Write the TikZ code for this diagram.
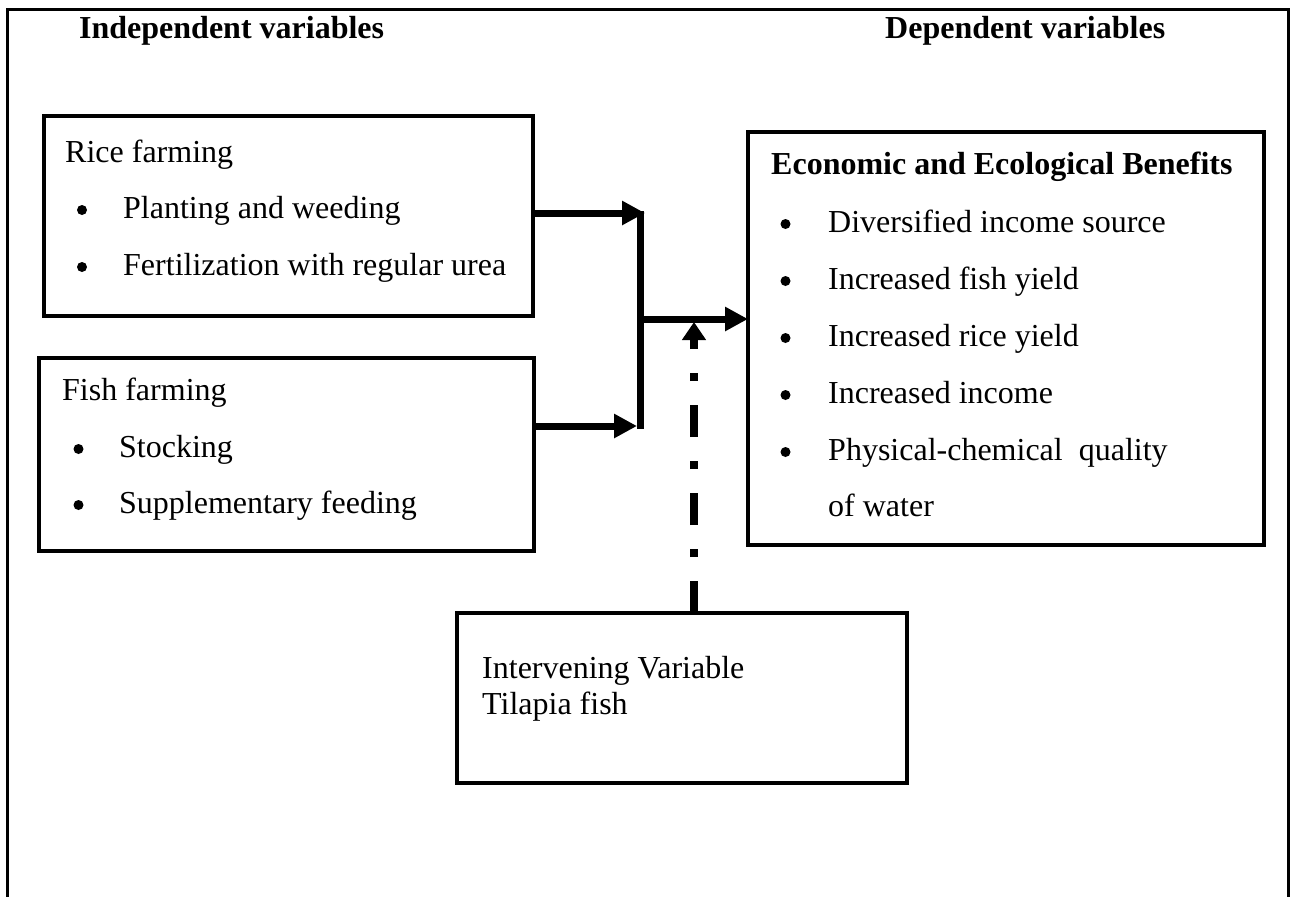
\documentclass[tikz,border=0pt]{standalone}
\usepackage{fontspec}
\setmainfont{Liberation Serif}
\usetikzlibrary{arrows.meta}
\begin{document}
\begin{tikzpicture}[x=1pt,y=-1pt,
  box/.style={draw, line width=4pt, rectangle, inner sep=0pt, outer sep=0pt},
  txt/.style={anchor=base west, inner sep=0pt, font=\fontsize{32}{37}\selectfont},
  head/.style={anchor=base west, inner sep=0pt, font=\fontsize{32}{37}\selectfont\bfseries},
  bul/.style={fill=black},
  arr/.style={line width=7pt, -{Triangle[length=23pt,width=23pt]}},
  dashdot/.style={line width=8pt, dash pattern=on 32pt off 24pt on 8pt off 24pt, -{Triangle[length=18pt,width=23pt]}}
]
\useasboundingbox (0,0) rectangle (1296,897);
\draw[line width=3pt] (7.5,897) -- (7.5,9.5) -- (1288.5,9.5) -- (1288.5,897);

% headings
\node[head] (hind) at (79,38) {Independent variables};
\node[head] (hdep) at (885,38) {Dependent variables};

% boxes
\node[box, minimum width=489pt, minimum height=200pt, anchor=north west] (rice) at (44,116) {};
\node[box, minimum width=495pt, minimum height=193pt, anchor=north west] (fish) at (39,358) {};
\node[box, minimum width=516pt, minimum height=413pt, anchor=north west] (econ) at (748,132) {};
\node[box, minimum width=450pt, minimum height=170pt, anchor=north west] (ivar) at (457,613) {};

% rice text
\node[txt] (r0) at (65,162) {Rice farming};
\fill[bul] (82,210) circle[radius=5pt];
\node[txt] (r1) at (123,218) {Planting and weeding};
\fill[bul] (82,267) circle[radius=5pt];
\node[txt] (r2) at (123,275) {Fertilization with regular urea};

% fish text
\node[txt] (f0) at (62,400) {Fish farming};
\fill[bul] (78.5,449) circle[radius=5pt];
\node[txt] (f1) at (119,457) {Stocking};
\fill[bul] (78.5,505) circle[radius=5pt];
\node[txt] (f2) at (119,513) {Supplementary feeding};

% econ text
\node[head] (e0) at (771,174) {Economic and Ecological Benefits};
\fill[bul] (785.5,224) circle[radius=5pt];
\node[txt] (e1) at (828,232) {Diversified income source};
\fill[bul] (785.5,281) circle[radius=5pt];
\node[txt] (e2) at (828,289) {Increased fish yield};
\fill[bul] (785.5,338) circle[radius=5pt];
\node[txt] (e3) at (828,346) {Increased rice yield};
\fill[bul] (785.5,395) circle[radius=5pt];
\node[txt] (e4) at (828,403) {Increased income};
\fill[bul] (785.5,452) circle[radius=5pt];
\node[txt] (e5) at (828,460) {Physical-chemical\ \ quality};
\node[txt] (e6) at (828,516) {of water};

% intervening text
\node[txt] (i0) at (482,678) {Intervening Variable};
\node[txt] (i1) at (482,714) {Tilapia fish};

% connectors
\coordinate (jt) at (640,211);
\coordinate (jb) at (640,429);
\coordinate (jm) at (640,319);
\coordinate (ra) at (645,213);
\coordinate (fa) at (637,426);
\coordinate (da) at (694,322);
\draw[line width=7pt] (jt) -- (jb);
\draw[arr] (rice.east |- ra) -- (ra);
\draw[arr] (fish.east |- fa) -- (fa);
\draw[arr] (jm) -- (econ.west |- jm);
\draw[dashdot] (ivar.north -| da) -- (da);
\end{tikzpicture}
\end{document}
